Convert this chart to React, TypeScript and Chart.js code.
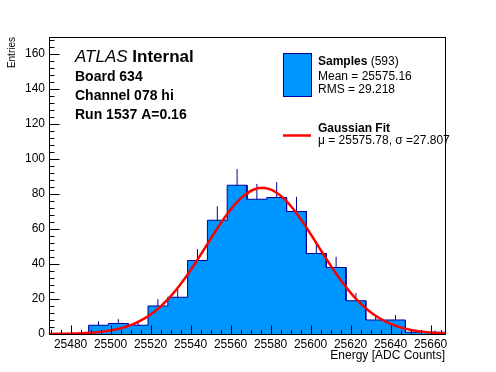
import React, { useEffect, useRef } from 'react';
import { Chart, registerables } from 'chart.js';

Chart.register(...registerables);

// ---- data ----
const binLow = 25469.2;
const binWidth = 9.9;
const binCounts = [0, 0, 5, 6, 5, 16, 21, 42, 65, 85, 77, 78, 70, 46, 38, 19, 8, 8, 1, 1];

const xMin = 25469.2;
const xMax = 25667.2;
const yMin = 0;
const yMax = 169.7;

const xTickValues = [25480, 25500, 25520, 25540, 25560, 25580, 25600, 25620, 25640, 25660];
const xMinorStep = 5;
const yTickValues = [0, 20, 40, 60, 80, 100, 120, 140, 160];
const yMinorStep = 4;

const fitMu = 25575.78;
const fitSigma = 27.807;
const fitAmplitude = 83.5;
const fitStep = 0.5;

const xTitle = 'Energy [ADC Counts]';
const yTitle = 'Entries';
const headerItalic = 'ATLAS';
const headerBold = 'Internal';
const infoLines = ['Board 634', 'Channel 078 hi', 'Run 1537 A=0.16'];
const legendSamplesBold = 'Samples';
const legendSamplesRest = ' (593)';
const legendMean = 'Mean = 25575.16';
const legendRms = 'RMS = 29.218';
const legendFitTitle = 'Gaussian Fit';
const legendFitParams = 'μ = 25575.78, σ =27.807';

const FONT = '"Liberation Sans", Arial, Helvetica, sans-serif';
const HIST_FILL = '#0096ff';
const HIST_LINE = '#000099';
const FIT_COLOR = '#ff0000';

function buildHistOutline() {
  const pts: { x: number; y: number }[] = [];
  pts.push({ x: binLow, y: 0 });
  binCounts.forEach((c, i) => {
    const lo = binLow + i * binWidth;
    const hi = lo + binWidth;
    pts.push({ x: lo, y: c });
    pts.push({ x: hi, y: c });
  });
  pts.push({ x: binLow + binCounts.length * binWidth, y: 0 });
  return pts;
}

function buildErrorBars() {
  const pts: { x: number; y: number | null }[] = [];
  binCounts.forEach((c, i) => {
    if (c <= 0) return;
    const cx = binLow + (i + 0.5) * binWidth;
    const e = Math.sqrt(c);
    pts.push({ x: cx, y: c - e });
    pts.push({ x: cx, y: c + e });
    pts.push({ x: cx, y: null });
  });
  return pts;
}

function buildFit() {
  const pts: { x: number; y: number }[] = [];
  for (let x = xMin; x <= xMax + 1e-9; x += fitStep) {
    const d = (x - fitMu) / fitSigma;
    pts.push({ x, y: fitAmplitude * Math.exp(-0.5 * d * d) });
  }
  return pts;
}

const decorPlugin = {
  id: 'decor',
  afterDatasetsDraw(chart: any) {
    const { ctx, chartArea, scales } = chart;
    const xs = scales.x;
    const ys = scales.y;
    ctx.save();
    ctx.strokeStyle = '#000';
    ctx.lineWidth = 1;
    // ticks (inward)
    ctx.beginPath();
    const bottom = Math.round(chartArea.bottom) + 0.5;
    const left = Math.round(chartArea.left) + 0.5;
    for (let v = Math.ceil(xMin / xMinorStep) * xMinorStep; v <= xMax; v += xMinorStep) {
      const px = Math.round(xs.getPixelForValue(v)) + 0.5;
      const major = xTickValues.includes(v);
      ctx.moveTo(px, bottom);
      ctx.lineTo(px, bottom - (major ? 9 : 4.5));
    }
    for (let v = yMin; v <= yMax; v += yMinorStep) {
      const py = Math.round(ys.getPixelForValue(v)) + 0.5;
      const major = yTickValues.includes(v);
      ctx.moveTo(left, py);
      ctx.lineTo(left + (major ? 10 : 5), py);
    }
    ctx.stroke();
    // frame
    ctx.strokeRect(
      Math.round(chartArea.left) + 0.5,
      Math.round(chartArea.top) + 0.5,
      Math.round(chartArea.right - chartArea.left),
      Math.round(chartArea.bottom - chartArea.top)
    );
    ctx.restore();
  },
  afterDraw(chart: any) {
    const { ctx } = chart;
    ctx.save();
    ctx.fillStyle = '#000';
    ctx.textBaseline = 'middle';
    ctx.textAlign = 'left';
    // header
    ctx.font = `italic 17px ${FONT}`;
    ctx.fillText(headerItalic, 75, 57);
    const w = ctx.measureText(headerItalic + ' ').width;
    ctx.font = `bold 17px ${FONT}`;
    ctx.fillText(headerBold, 75 + w, 57);
    ctx.font = `bold 14px ${FONT}`;
    const infoY = [77, 96, 115];
    infoLines.forEach((t, i) => ctx.fillText(t, 75, infoY[i]));

    // legend: samples
    ctx.fillStyle = HIST_FILL;
    ctx.fillRect(283.5, 53.5, 28, 43);
    ctx.strokeStyle = HIST_LINE;
    ctx.lineWidth = 1;
    ctx.strokeRect(283.5, 53.5, 28, 43);
    ctx.fillStyle = '#000';
    ctx.font = `bold 12px ${FONT}`;
    ctx.fillText(legendSamplesBold, 318, 62);
    const ws = ctx.measureText(legendSamplesBold).width;
    ctx.font = `12px ${FONT}`;
    ctx.fillText(legendSamplesRest, 318 + ws, 62);
    ctx.fillText(legendMean, 318, 77);
    ctx.fillText(legendRms, 318, 90);
    // legend: fit
    ctx.strokeStyle = FIT_COLOR;
    ctx.lineWidth = 2.5;
    ctx.beginPath();
    ctx.moveTo(283, 135.5);
    ctx.lineTo(311, 135.5);
    ctx.stroke();
    ctx.font = `bold 12px ${FONT}`;
    ctx.fillText(legendFitTitle, 318, 129);
    ctx.font = `12px ${FONT}`;
    ctx.fillText(legendFitParams, 318, 141);
    ctx.restore();
  },
};

export default function App() {
  const canvasRef = useRef<HTMLCanvasElement | null>(null);

  useEffect(() => {
    document.body.style.margin = '0';
    const canvas = canvasRef.current;
    if (!canvas) return;
    const chart = new Chart(canvas, {
      type: 'line',
      data: {
        datasets: [
          {
            label: 'fit',
            data: buildFit(),
            borderColor: FIT_COLOR,
            borderWidth: 2.5,
            pointRadius: 0,
            fill: false,
            tension: 0,
          },
          {
            label: 'hist',
            data: buildHistOutline(),
            borderColor: HIST_LINE,
            backgroundColor: HIST_FILL,
            borderWidth: 1,
            pointRadius: 0,
            fill: 'origin',
            tension: 0,
          },
          {
            label: 'errors',
            data: buildErrorBars(),
            borderColor: HIST_LINE,
            borderWidth: 1,
            pointRadius: 0,
            fill: false,
            spanGaps: false,
            tension: 0,
          },
        ],
      } as any,
      options: {
        responsive: false,
        animation: false,
        devicePixelRatio: 1,
        layout: { padding: { left: 0, right: 51, top: 37, bottom: 0 } },
        plugins: {
          legend: { display: false },
          tooltip: { enabled: false },
        },
        scales: {
          x: {
            type: 'linear',
            min: xMin,
            max: xMax,
            afterBuildTicks: (s: any) => {
              s.ticks = xTickValues.map((v) => ({ value: v }));
            },
            afterFit: (s: any) => {
              s.height = 38;
            },
            grid: { display: false, drawTicks: false },
            border: { display: false },
            ticks: {
              autoSkip: false,
              maxRotation: 0,
              minRotation: 0,
              padding: 3,
              color: '#000',
              font: { family: FONT, size: 12 },
              callback: (v: any) => String(v),
            },
            title: {
              display: true,
              text: xTitle,
              align: 'end',
              color: '#000',
              font: { family: FONT, size: 12 },
              padding: { top: 0, bottom: 9 },
            },
          },
          y: {
            type: 'linear',
            min: yMin,
            max: yMax,
            afterBuildTicks: (s: any) => {
              s.ticks = yTickValues.map((v) => ({ value: v }));
            },
            afterFit: (s: any) => {
              s.width = 49;
            },
            grid: { display: false, drawTicks: false },
            border: { display: false },
            ticks: {
              autoSkip: false,
              padding: 4,
              color: '#000',
              font: { family: FONT, size: 12 },
              callback: (v: any) => String(v),
            },
            title: {
              display: true,
              text: yTitle,
              align: 'end',
              color: '#000',
              font: { family: FONT, size: 10 },
              padding: { top: 6.5, bottom: 0 },
            },
          },
        },
      } as any,
      plugins: [decorPlugin],
    });
    return () => chart.destroy();
  }, []);

  return (
    <div style={{ width: 496, height: 372, background: '#fff' }}>
      <canvas ref={canvasRef} width={496} height={372} style={{ display: 'block' }} />
    </div>
  );
}
